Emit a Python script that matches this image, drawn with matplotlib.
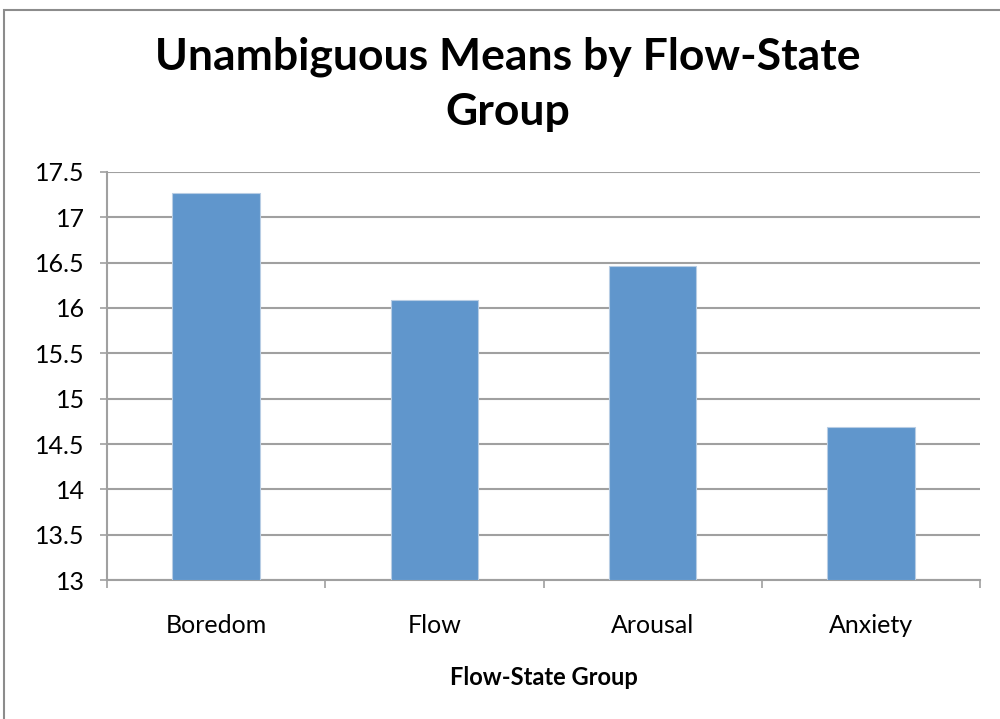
import matplotlib.pyplot as plt
from matplotlib.patches import Rectangle

plt.rcParams['font.family'] = ['Lato', 'DejaVu Sans']

groups = ['Boredom', 'Flow', 'Arousal', 'Anxiety']
means = [17.27, 16.09, 16.46, 14.69]
yticks = [13, 13.5, 14, 14.5, 15, 15.5, 16, 16.5, 17, 17.5]

barColor = '#6096cc'
gridColor = '#a0a0a0'

fig = plt.figure(figsize=(10, 7.19), dpi=100)
ax = fig.add_axes([0.107, 0.1933, 0.873, 0.5675])

x = list(range(len(groups)))
ax.bar(x, [m - 13 for m in means], bottom=13, width=0.4, color=barColor,
       edgecolor='#b8cde4', linewidth=0.8, zorder=3)

ax.set_xlim(-0.5, 3.5)
ax.set_ylim(13, 17.5)
ax.set_yticks(yticks)
ax.set_yticklabels([f'{v:g}' for v in yticks], fontsize=18)
ax.yaxis.grid(True, color=gridColor, linewidth=1.5, zorder=0)
ax.tick_params(axis='y', length=5, width=1.2, color=gridColor, pad=11)

# category labels in the middle, tick marks on the boundaries
ax.set_xticks(x)
ax.set_xticklabels(groups, fontsize=18)
ax.set_xticks([-0.5, 0.5, 1.5, 2.5, 3.5], minor=True)
ax.tick_params(axis='x', which='major', length=0, pad=24.5)
ax.tick_params(axis='x', which='minor', length=6, width=1.2, color=gridColor)

for side in ['top', 'right']:
    ax.spines[side].set_visible(False)
for side in ['left', 'bottom']:
    ax.spines[side].set_color(gridColor)
    ax.spines[side].set_linewidth(1.5)

ax.set_xlabel('Flow-State Group', fontsize=17, fontweight='bold', labelpad=21)
fig.text(0.508, 0.883, 'Unambiguous Means by Flow-State\nGroup', ha='center', va='center',
         fontsize=32, fontweight='bold', linespacing=1.45)

# outer chart border
fig.patches.append(Rectangle((0.004, -0.01), 1.1, 1.0058 - 0.01, transform=fig.transFigure,
                             fill=False, edgecolor='#8c8c8c', linewidth=1.5))

fig.savefig('out.png', dpi=100, facecolor='white')
